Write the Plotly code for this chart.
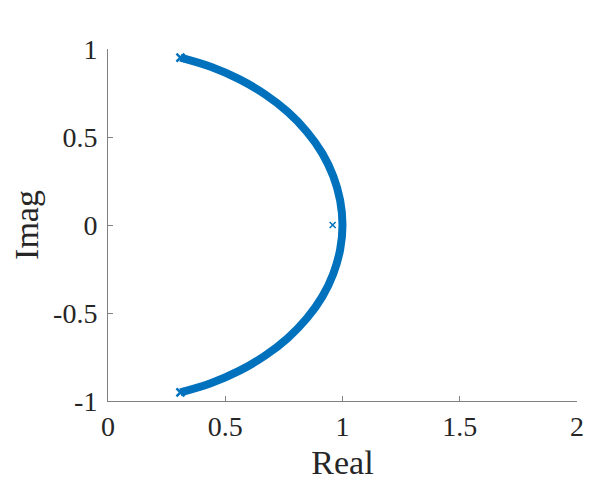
import plotly.graph_objects as go

# locus points
locus_re = [0.309, 0.438, 0.559, 0.669, 0.766, 0.848, 0.914, 0.961, 0.990, 1.000,
            0.990, 0.961, 0.914, 0.848, 0.766, 0.669, 0.559, 0.438, 0.309]
locus_im = [-0.951, -0.899, -0.829, -0.743, -0.643, -0.530, -0.407, -0.276, -0.139, 0.0,
            0.139, 0.276, 0.407, 0.530, 0.643, 0.743, 0.829, 0.899, 0.951]

# end markers and the single pole
end_re = [0.309, 0.309]
end_im = [-0.951, 0.951]
pole_re = [0.958]
pole_im = [0.0]

x_ticks = [0, 0.5, 1, 1.5, 2]
x_labels = ["0", "0.5", "1", "1.5", "2"]
y_ticks = [-1, -0.5, 0, 0.5, 1]
y_labels = ["-1", "-0.5", "0", "0.5", "1"]

blue = "#0072BD"
axis_grey = "#808080"
font_family = "Liberation Serif, serif"

fig = go.Figure()

fig.add_trace(go.Scatter(
    x=locus_re, y=locus_im,
    mode="lines",
    line=dict(color=blue, width=8, shape="spline"),
    showlegend=False,
))

fig.add_trace(go.Scatter(
    x=end_re, y=end_im,
    mode="markers",
    marker=dict(symbol="x-thin", size=8, line=dict(color=blue, width=2.5)),
    showlegend=False,
))

fig.add_trace(go.Scatter(
    x=pole_re, y=pole_im,
    mode="markers",
    marker=dict(symbol="x-thin", size=6, line=dict(color=blue, width=1.5)),
    showlegend=False,
))

# page body has an 8px offset, so margins are shifted to keep the plot area in place
fig.update_layout(
    width=598,
    height=502,
    margin=dict(l=98, r=29, t=41, b=109),
    plot_bgcolor="white",
    paper_bgcolor="white",
    font=dict(family=font_family, size=28, color="#262626"),
)

fig.update_xaxes(
    range=[0, 2],
    tickvals=x_ticks, ticktext=x_labels,
    showline=True, linecolor=axis_grey, linewidth=1,
    ticks="inside", ticklen=5, tickcolor=axis_grey,
    showgrid=False, zeroline=False,
    title=dict(text="Real", standoff=9),
)

fig.update_yaxes(
    range=[-1, 1],
    tickvals=y_ticks, ticktext=y_labels,
    showline=True, linecolor=axis_grey, linewidth=1,
    ticks="inside", ticklen=5, tickcolor=axis_grey,
    ticklabelstandoff=4,
    showgrid=False, zeroline=False,
    title=dict(text="Imag", standoff=9),
)

fig.write_html("out.html")
